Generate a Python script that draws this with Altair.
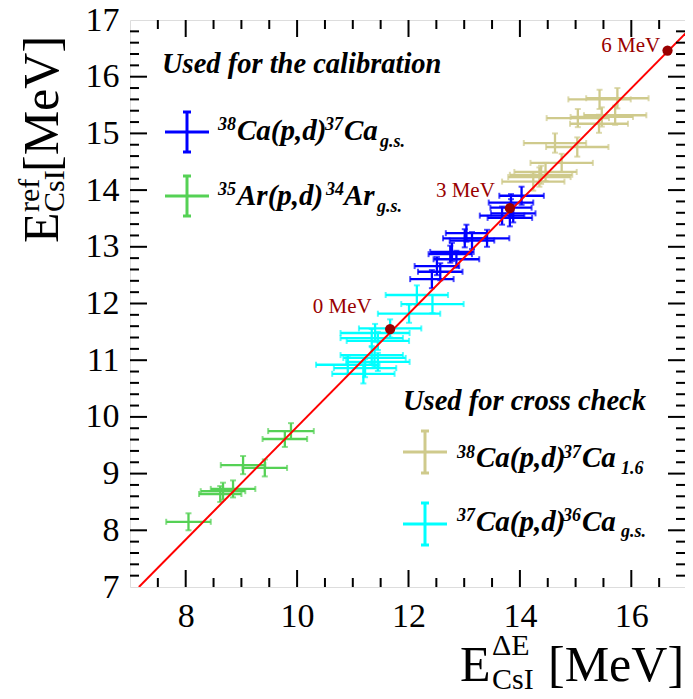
import altair as alt
import pandas as pd

FONT = "Liberation Serif"
W, H = 555, 567
X0, Y0 = 130, 20          # plot origin on the page
XMIN, XMAX = 7.0, 16.964
YMIN, YMAX = 7.0, 17.0

# ---------------- data ----------------
# 38Ca(p,d)37Ca g.s. (calibration, blue)
b_x = [14.03, 13.84, 13.84, 13.88, 13.68, 13.82, 13.04, 13.01, 13.41, 13.14, 12.78, 12.75, 12.86, 12.51, 12.57, 12.42]
b_y = [13.90, 13.78, 13.69, 13.59, 13.55, 13.51, 13.24, 13.15, 13.15, 13.11, 12.91, 12.87, 12.78, 12.66, 12.56, 12.43]
b_xe = [0.40, 0.40, 0.37, 0.40, 0.40, 0.40, 0.37, 0.39, 0.40, 0.40, 0.39, 0.39, 0.41, 0.40, 0.40, 0.39]
b_ye = [0.16, 0.15, 0.15, 0.16, 0.16, 0.15, 0.15, 0.16, 0.15, 0.15, 0.16, 0.15, 0.15, 0.16, 0.15, 0.16]

# 35Ar(p,d)34Ar g.s. (calibration, green)
g_x = [8.05, 8.62, 8.67, 8.85, 9.03, 9.42, 9.78, 9.89]
g_y = [8.15, 8.64, 8.69, 8.73, 9.15, 9.10, 9.61, 9.75]
g_xe = [0.40, 0.38, 0.40, 0.40, 0.40, 0.40, 0.40, 0.41]
g_ye = [0.15, 0.14, 0.15, 0.15, 0.16, 0.15, 0.14, 0.14]

# 38Ca(p,d)37Ca 1.6 (cross check, khaki)
k_x = [15.43, 15.75, 15.04, 15.47, 15.71, 15.42, 14.63, 15.03, 14.75, 14.46, 14.38, 14.35, 14.24]
k_y = [15.60, 15.62, 15.27, 15.29, 15.32, 15.17, 14.83, 14.76, 14.48, 14.32, 14.27, 14.23, 14.15]
k_xe = [0.56, 0.56, 0.56, 0.56, 0.56, 0.52, 0.56, 0.56, 0.56, 0.56, 0.56, 0.56, 0.56]
k_ye = [0.17, 0.18, 0.16, 0.17, 0.17, 0.16, 0.17, 0.17, 0.16, 0.16, 0.16, 0.17, 0.16]

# 37Ca(p,d)36Ca g.s. (cross check, cyan)
c_x = [12.15, 12.43, 12.01, 11.67, 11.40, 11.34, 11.45, 11.34, 11.39, 11.45, 10.91, 11.22, 11.19]
c_y = [12.15, 11.99, 11.82, 11.56, 11.48, 11.39, 11.34, 11.09, 11.04, 10.97, 10.92, 10.86, 10.76]
c_xe = [0.56, 0.56, 0.56, 0.56, 0.62, 0.56, 0.56, 0.56, 0.56, 0.57, 0.57, 0.56, 0.56]
c_ye = [0.17, 0.16, 0.16, 0.16, 0.16, 0.16, 0.16, 0.16, 0.16, 0.16, 0.16, 0.16, 0.17]

# calibration line and reference points
line_x = [7.16, 17.0]
line_y = [7.00, 16.79]
ref_x = [11.67, 13.82, 16.65]
ref_y = [11.55, 13.68, 16.46]
ref_lab = ["0 MeV", "3 MeV", "6 MeV"]
lab_x = [11.34, 13.55, 16.52]
lab_y = [11.83, 13.87, 16.44]

# axis ticks
x_major = [8, 10, 12, 14, 16]
x_minor = [7.5, 8.5, 9, 9.5, 10.5, 11, 11.5, 12.5, 13, 13.5, 14.5, 15, 15.5, 16.5]
y_major = [8, 9, 10, 11, 12, 13, 14, 15, 16]
y_labels = [7, 8, 9, 10, 11, 12, 13, 14, 15, 16, 17]
y_minor = [round(7 + 0.2 * i, 1) for i in range(1, 50) if i % 5 != 0]

COL_B, COL_G, COL_K, COL_C = "#0000FF", "#55D155", "#CFCA8C", "#00FFFF"
DARKRED = "#990000"

# ---------------- frames ----------------
rows = []
for xs_, ys_, xe_, ye_, col in [(k_x, k_y, k_xe, k_ye, COL_K), (c_x, c_y, c_xe, c_ye, COL_C),
                                (b_x, b_y, b_xe, b_ye, COL_B), (g_x, g_y, g_xe, g_ye, COL_G)]:
    for a, b, ex, ey in zip(xs_, ys_, xe_, ye_):
        rows.append(dict(x=a, y=b, xlo=a - ex, xhi=a + ex, ylo=b - ey, yhi=b + ey, col=col))
eb = pd.DataFrame(rows)

xsc = alt.Scale(domain=[XMIN, XMAX], nice=False, zero=False)
ysc = alt.Scale(domain=[YMIN, YMAX], nice=False, zero=False)
xax = alt.Axis(values=x_major, ticks=False, tickSize=0, domain=False, grid=False, labelFont=FONT,
               labelFontSize=34, labelColor="black", labelPadding=12, title=None,
               labelFlush=False, labelOverlap=False)
yax = alt.Axis(values=y_labels, ticks=False, tickSize=0, domain=False, grid=False, labelFont=FONT,
               labelFontSize=34, labelColor="black", labelPadding=11, title=None,
               labelFlush=False, labelOverlap=False)

def X(f):
    return alt.X(f, type="quantitative", scale=xsc, axis=xax)

def Y(f):
    return alt.Y(f, type="quantitative", scale=ysc, axis=yax)

colr = alt.Color("col:N", scale=None)
layers = []

# error bars
EW = 2.3
layers.append(alt.Chart(eb).mark_rule(strokeWidth=EW).encode(x=X("xlo"), x2="xhi", y=Y("y"), color=colr))
layers.append(alt.Chart(eb).mark_rule(strokeWidth=EW).encode(x=X("x"), y=Y("ylo"), y2="yhi", color=colr))
for f in ["xlo", "xhi"]:
    layers.append(alt.Chart(eb).mark_tick(orient="vertical", size=6, thickness=2).encode(x=X(f), y=Y("y"), color=colr))
for f in ["ylo", "yhi"]:
    layers.append(alt.Chart(eb).mark_tick(orient="horizontal", size=6, thickness=2).encode(x=X("x"), y=Y(f), color=colr))

# calibration line
ldf = pd.DataFrame({"x": line_x, "y": line_y})
layers.append(alt.Chart(ldf).mark_line(color="#FF0000", strokeWidth=2, clip=True).encode(x=X("x"), y=Y("y")))

# reference points
rdf = pd.DataFrame({"x": ref_x, "y": ref_y, "lx": lab_x, "ly": lab_y, "t": ref_lab})
layers.append(alt.Chart(rdf).mark_circle(size=105, color=DARKRED, opacity=1).encode(x=X("x"), y=Y("y")))
layers.append(alt.Chart(rdf).mark_text(font=FONT, fontSize=21, color=DARKRED, align="right",
                                        baseline="alphabetic").encode(x=X("lx"), y=Y("ly"), text="t:N"))

# inward ticks on all four sides
MAJ, MIN = 17, 9
for vals, ln in [(x_major, MAJ), (x_minor, MIN)]:
    d = pd.DataFrame({"v": vals})
    layers.append(alt.Chart(d).mark_rule(color="black", strokeWidth=2).encode(
        x=X("v"), y=alt.value(H), y2=alt.value(H - ln)))
    layers.append(alt.Chart(d).mark_rule(color="black", strokeWidth=2).encode(
        x=X("v"), y=alt.value(0), y2=alt.value(ln)))
for vals, ln in [(y_major, MAJ), (y_minor, MIN)]:
    d = pd.DataFrame({"v": vals})
    layers.append(alt.Chart(d).mark_rule(color="black", strokeWidth=2).encode(
        y=Y("v"), x=alt.value(0), x2=alt.value(ln)))
    layers.append(alt.Chart(d).mark_rule(color="black", strokeWidth=2).encode(
        y=Y("v"), x=alt.value(W), x2=alt.value(W - ln)))

dummy = pd.DataFrame({"a": [0]})

def txt(s, px, py, size, color="black", style="normal", weight="normal", align="left", angle=0):
    kw = dict(text=s, fontSize=size, font=FONT, fontStyle=style, fontWeight=weight, color=color,
              align=align, baseline="alphabetic")
    if angle:
        kw["angle"] = angle
    return alt.Chart(dummy).mark_text(**kw).encode(x=alt.value(px - X0), y=alt.value(py - Y0))

def seg(x1, y1, x2, y2, color, w):
    return alt.Chart(dummy).mark_rule(color=color, strokeWidth=w).encode(
        x=alt.value(x1 - X0), x2=alt.value(x2 - X0), y=alt.value(y1 - Y0), y2=alt.value(y2 - Y0))

def cross(cx, cy, hw, hh, color):
    return [seg(cx - hw, cy, cx + hw, cy, color, 3),
            seg(cx, cy - hh, cx, cy + hh, color, 3),
            seg(cx - 4, cy - hh, cx + 4, cy - hh, color, 3),
            seg(cx - 4, cy + hh, cx + 4, cy + hh, color, 3)]

BI = dict(style="italic", weight="bold")
HS, MS, SS = 28.5, 29, 18
# legend: calibration
layers.append(txt("Used for the calibration", 162, 73, HS, **BI))
layers += cross(187, 132, 22, 20, COL_B)
layers += [txt("38", 218, 130, SS, **BI), txt("Ca(p,d)", 237, 140, MS, **BI),
           txt("37", 325, 130, SS, **BI), txt("Ca", 344, 140, MS, **BI),
           txt("g.s.", 380, 147, SS, **BI)]
layers += cross(187, 196, 22, 20, COL_G)
layers += [txt("35", 218, 195, SS, **BI), txt("Ar(p,d)", 237, 205, MS, **BI),
           txt("34", 326, 195, SS, **BI), txt("Ar", 344, 205, MS, **BI),
           txt("g.s.", 377, 212, SS, **BI)]
# legend: cross check
layers.append(txt("Used for cross check", 403, 410, HS, **BI))
layers += cross(425, 452, 22, 21, COL_K)
layers += [txt("38", 457, 458, SS, **BI), txt("Ca(p,d)", 476, 467, MS, **BI),
           txt("37", 563, 458, SS, **BI), txt("Ca", 582, 467, MS, **BI),
           txt("1.6", 621, 474, SS, **BI)]
layers += cross(425, 524, 22, 21, COL_C)
layers += [txt("37", 457, 521, SS, **BI), txt("Ca(p,d)", 476, 531, MS, **BI),
           txt("36", 563, 521, SS, **BI), txt("Ca", 582, 531, MS, **BI),
           txt("g.s.", 621, 537, SS, **BI)]

# axis titles
layers += [txt("E", 460, 681, 50), txt("\u0394E", 492, 655, 30), txt("CsI", 492, 689, 30),
           txt("[MeV]", 548, 681, 50)]
layers += [txt("E", 58, 243, 50, angle=270), txt("ref", 39, 212, 30, angle=270),
           txt("CsI", 64, 212, 30, angle=270), txt("[MeV]", 58, 172, 50, angle=270)]

chart = alt.layer(*layers).properties(
    width=W, height=H,
    autosize=alt.AutoSizeParams(type="none"),
    padding={"left": 122, "top": 12, "right": 0, "bottom": 103},
).configure_view(stroke="black", strokeWidth=2).configure(background="white")

chart.save("out.html", embed_options={"renderer": "svg", "actions": False})
